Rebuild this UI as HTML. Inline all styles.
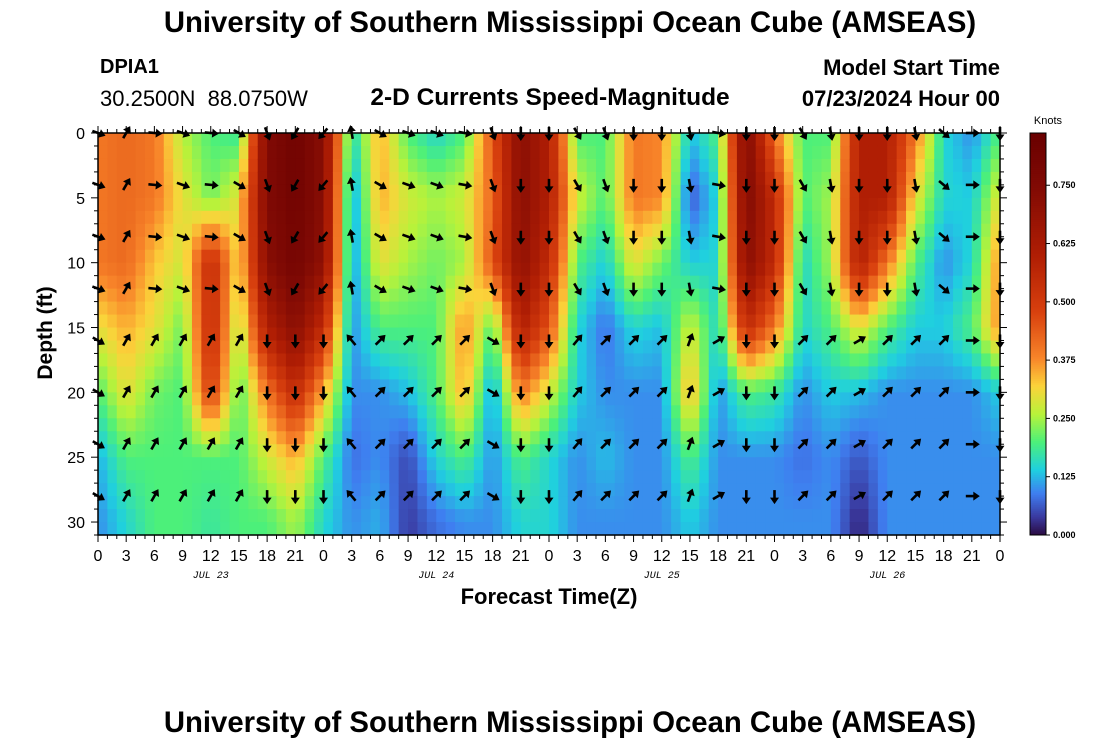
<!DOCTYPE html>
<html><head><meta charset="utf-8"><style>
body{margin:0;background:#fff;font-family:"Liberation Sans",sans-serif}
#wrap{position:relative;width:1100px;height:750px;overflow:hidden}
.t{position:absolute;white-space:nowrap;color:#000}
</style></head><body>
<div id="wrap">
<div class="t" style="left:20px;width:1100px;text-align:center;top:6px;font-size:29.3px;font-weight:bold">University of Southern Mississippi Ocean Cube (AMSEAS)</div>
<div class="t" style="left:100px;top:56px;font-size:20px;font-weight:bold">DPIA1</div>
<div class="t" style="left:100px;top:86px;font-size:22px">30.2500N&nbsp; 88.0750W</div>
<div class="t" style="left:300px;width:500px;text-align:center;top:84px;font-size:24.5px;font-weight:bold">2-D Currents Speed-Magnitude</div>
<div class="t" style="right:100px;top:55px;font-size:22px;font-weight:bold">Model Start Time</div>
<div class="t" style="right:100px;top:86px;font-size:22px;font-weight:bold">07/23/2024 Hour 00</div>
<div class="t" style="left:20px;width:1100px;text-align:center;top:706px;font-size:29.3px;font-weight:bold">University of Southern Mississippi Ocean Cube (AMSEAS)</div>
<svg id="svg" width="1100" height="750" style="position:absolute;left:0;top:0"></svg>
</div>
<script>
// hours of columns (every 3h)
const hours=[0,3,6,9,12,15,18,21,24,27,30,33,36,39,42,45,48,51,54,57,60,63,66,69,72,75,78,81,84,87,90,93,96];
const depths=[0,5,10,15,20,25,30];
// speed (knots) per column, per depth row
const speed=[
[0.40,0.40,0.40,0.30,0.20,0.12,0.10],
[0.42,0.42,0.42,0.35,0.30,0.20,0.15],
[0.40,0.40,0.33,0.30,0.22,0.20,0.20],
[0.26,0.30,0.28,0.22,0.20,0.20,0.20],
[0.20,0.22,0.55,0.55,0.50,0.20,0.18],
[0.18,0.30,0.30,0.25,0.20,0.20,0.20],
[0.75,0.75,0.72,0.60,0.40,0.28,0.20],
[0.82,0.82,0.80,0.72,0.55,0.35,0.25],
[0.72,0.72,0.70,0.55,0.35,0.20,0.15],
[0.15,0.10,0.10,0.10,0.10,0.08,0.10],
[0.35,0.35,0.30,0.20,0.10,0.10,0.12],
[0.20,0.28,0.25,0.20,0.13,0.05,0.04],
[0.15,0.25,0.22,0.20,0.20,0.15,0.08],
[0.20,0.28,0.25,0.38,0.35,0.20,0.10],
[0.45,0.42,0.45,0.20,0.10,0.10,0.10],
[0.72,0.72,0.70,0.60,0.40,0.20,0.15],
[0.60,0.60,0.55,0.45,0.28,0.15,0.15],
[0.20,0.28,0.20,0.15,0.14,0.10,0.10],
[0.20,0.20,0.14,0.08,0.10,0.13,0.10],
[0.40,0.40,0.30,0.15,0.10,0.10,0.10],
[0.38,0.38,0.22,0.13,0.10,0.10,0.10],
[0.13,0.06,0.14,0.28,0.35,0.20,0.14],
[0.20,0.15,0.15,0.15,0.10,0.10,0.10],
[0.75,0.75,0.72,0.55,0.20,0.10,0.10],
[0.40,0.55,0.55,0.40,0.18,0.10,0.10],
[0.20,0.20,0.15,0.15,0.10,0.08,0.10],
[0.20,0.25,0.25,0.20,0.14,0.10,0.10],
[0.60,0.60,0.60,0.30,0.13,0.06,0.02],
[0.60,0.60,0.40,0.20,0.10,0.10,0.10],
[0.40,0.30,0.20,0.14,0.10,0.10,0.10],
[0.15,0.15,0.10,0.14,0.10,0.10,0.10],
[0.10,0.14,0.15,0.20,0.10,0.10,0.10],
[0.20,0.30,0.38,0.38,0.14,0.10,0.10]];
// arrow directions (deg clockwise from north) for upper (0-12ft) and lower (16-28ft) rows
const dirUpper=[110,30,95,110,95,120,160,210,220,350,120,110,110,100,160,180,180,150,160,180,180,170,100,180,180,150,170,180,180,170,130,90,180];
const dirLower=[120,30,30,30,30,30,180,180,180,320,45,45,45,45,120,180,180,40,45,45,45,20,60,180,180,45,45,60,45,45,45,90,180];
const yTicks=[0,5,10,15,20,25,30];
const xTickLabels=["0","3","6","9","12","15","18","21"];
const dayLabels=["JUL 23","JUL 24","JUL 25","JUL 26"];
const cbTicks=[0,0.125,0.25,0.375,0.5,0.625,0.75];

const NS="http://www.w3.org/2000/svg",svg=document.getElementById('svg');
const L=98,R=1000,T=133,B=535,DMAX=31,HMAX=96;
const X=h=>L+(R-L)*h/HMAX, Y=d=>T+(B-T)*d/DMAX;
const stops=[[0,[42,10,64]],[0.04,[58,58,160]],[0.09,[63,126,240]],[0.14,[31,207,224]],[0.2,[76,240,122]],[0.26,[184,242,58]],[0.32,[251,211,58]],[0.38,[248,133,42]],[0.48,[216,64,14]],[0.6,[176,30,4]],[0.75,[128,10,4]],[0.86,[106,0,0]]];
function col(v){for(let i=1;i<stops.length;i++){if(v<=stops[i][0]){const a=stops[i-1],b=stops[i],f=(v-a[0])/(b[0]-a[0]);return 'rgb('+a[1].map((c,k)=>Math.round(c+(b[1][k]-c)*f)).join(',')+')';}}return 'rgb(106,0,0)';}
function el(t,a,p){const e=document.createElementNS(NS,t);for(const k in a)e.setAttribute(k,a[k]);(p||svg).appendChild(e);return e;}
function sp(h,d){let i=Math.min(Math.floor(h/3),hours.length-2),fi=(h-hours[i])/3;let j=Math.min(Math.floor(d/5),depths.length-2),fj=Math.min((d-depths[j])/5,1);
const a=speed[i][j]*(1-fj)+speed[i][j+1]*fj,b=speed[i+1][j]*(1-fj)+speed[i+1][j+1]*fj;return a*(1-fi)+b*fi;}
const cells=el('g',{});


for(let h=0;h<HMAX;h++)for(let d=0;d<DMAX;d++){
 const r=el('rect',{x:X(h),y:Y(d),width:X(h+1)-X(h)+0.6,height:Y(d+1)-Y(d)+0.6,fill:col(sp(h+0.5,d+0.5))},cells);
 
 }
// arrows
const ag=el('g',{});


const arrowDepths=[0,4,8,12,16,20,24,28];
hours.forEach((h,i)=>{arrowDepths.forEach(d=>{
 const a=d<=12?dirUpper[i]:dirLower[i];
 const g=el('g',{transform:`translate(${X(h)},${Y(d)}) rotate(${a})`},ag);
 
 
 el('line',{x1:0,y1:6,x2:0,y2:-3,stroke:'#000','stroke-width':2.6},g);
 el('polygon',{points:'0,-8 -4.5,-1.5 4.5,-1.5',fill:'#000'},g);});});
// frame & ticks
el('rect',{x:L,y:T,width:R-L,height:B-T,fill:'none',stroke:'#000','stroke-width':1.5});
for(let h=0;h<=HMAX;h++){const x=X(h),m=h%3==0?7:4;el('line',{x1:x,y1:B,x2:x,y2:B+m,stroke:'#000'});el('line',{x1:x,y1:T,x2:x,y2:T-m,stroke:'#000'});}
for(let d=0;d<=DMAX;d++){const y=Y(d),m=d%5==0?7:4;el('line',{x1:L,y1:y,x2:L-m,y2:y,stroke:'#000'});el('line',{x1:R,y1:y,x2:R+m,y2:y,stroke:'#000'});}
function txt(s,a,name){const t=el('text',a);t.textContent=s;return t;}
yTicks.forEach(d=>txt(d,{x:L-13,y:Y(d)+6,'font-size':16,'text-anchor':'end'},'y-tick-label'));
for(let h=0;h<=HMAX;h+=3)txt(xTickLabels[(h/3)%8],{x:X(h),y:561,'font-size':16,'text-anchor':'middle'},'x-tick-label');
dayLabels.forEach((s,i)=>txt(s,{x:X(12+24*i),y:578,'font-size':10,'font-style':'italic','font-family':'Liberation Mono, monospace','text-anchor':'middle'},'day-label'));
txt('Forecast Time(Z)',{x:549,y:604,'font-size':22,'font-weight':'bold','text-anchor':'middle'},'x-axis-title');
txt('Depth (ft)',{x:0,y:0,'font-size':21,'font-weight':'bold','text-anchor':'middle',transform:'translate(52,333) rotate(-90)'},'y-axis-title');
// colorbar
const CL=1030,CW=16,CT=133,CB=535,VMAX=0.862;
const cy=v=>CB-(CB-CT)*v/VMAX;
const cb=el('g',{});


for(let k=0;k<200;k++){const v0=VMAX*k/200,v1=VMAX*(k+1)/200;el('rect',{x:CL,y:cy(v1),width:CW,height:cy(v0)-cy(v1)+0.5,fill:col((v0+v1)/2)},cb);}
el('rect',{x:CL,y:CT,width:CW,height:CB-CT,fill:'none',stroke:'#000'},cb);
cbTicks.forEach(v=>{el('line',{x1:CL+CW,y1:cy(v),x2:CL+CW+4,y2:cy(v),stroke:'#000'},cb);txt(v.toFixed(3),{x:CL+CW+7,y:cy(v)+3,'font-size':9,'font-weight':'bold'},'colorbar-tick-label');});
txt('Knots',{x:1048,y:124,'font-size':11,'text-anchor':'middle'},'colorbar-title');
</script>
</body></html>
